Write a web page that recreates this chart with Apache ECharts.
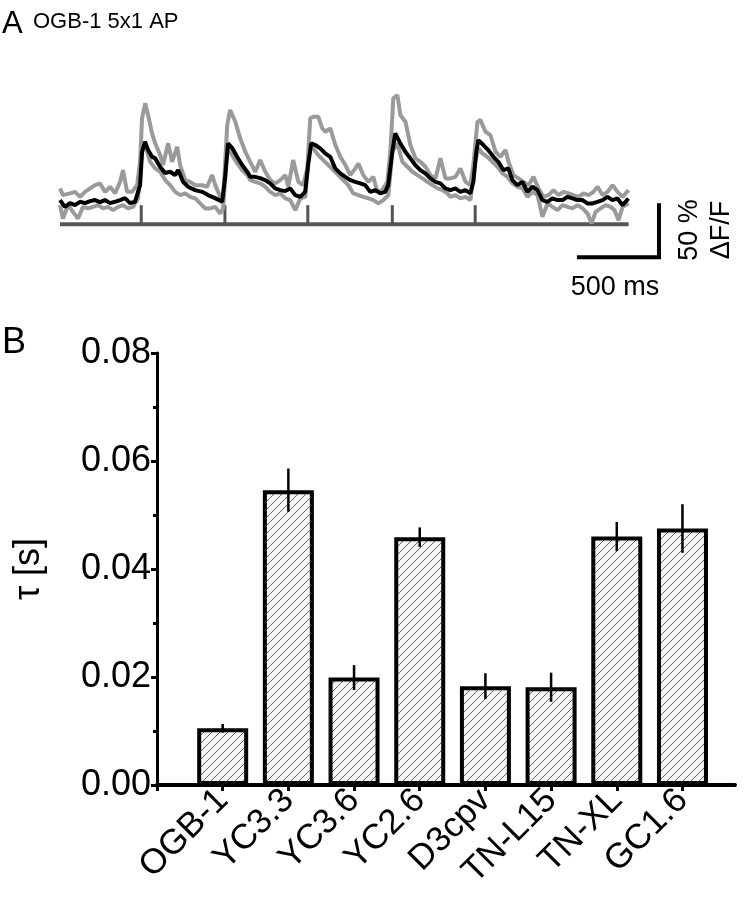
<!DOCTYPE html>
<html>
<head>
<meta charset="utf-8">
<title>OGB-1 5x1 AP / tau</title>
<script src="https://cdn.jsdelivr.net/npm/echarts/dist/echarts.min.js"></script>
<style>
  html, body { margin: 0; padding: 0; background: #fff; }
  #main { width: 749px; height: 900px; }
</style>
</head>
<body>
<div id="main"></div>
<script>
// ---- panel A: fluorescence traces (time in ms, dF/F in %) ----
var traceMean = [
  [0, 1.9], [30, -4.4], [61, -0.9], [91, -2.8], [122, 0.3], [152, -0.9], [183, 0.9], [213, 1.9],
  [244, 0], [274, 1.9], [305, -0.9], [335, 0.3], [366, 1.9], [396, 3.7], [427, -0.9], [457, 0.3],
  [488, 15.7], [500, 46.3], [518, 55.8], [537, 48.1], [561, 41.9], [579, 40.7], [610, 32.7], [640, 26.9],
  [671, 28.1], [701, 25], [720, 29.6], [750, 18.8], [781, 14.2], [823, 11.1], [866, 9.5], [902, 6.5],
  [945, 3.7], [988, 0.3], [1006, 22.2], [1024, 54.4], [1049, 50], [1079, 41.9], [1110, 34.3], [1146, 26.9],
  [1159, 23.4], [1189, 23.4], [1220, 22.2], [1250, 20.4], [1281, 17.3], [1311, 12.7], [1342, 11.1], [1372, 10.2],
  [1403, 12.7], [1433, 6.5], [1464, 4.9], [1494, 9.5], [1512, 34.3], [1531, 54.4], [1555, 52.8], [1586, 49.7],
  [1616, 45.1], [1647, 41.9], [1677, 31.2], [1708, 26.6], [1738, 23.4], [1769, 20.4], [1799, 18.8], [1830, 17.3],
  [1860, 15.7], [1891, 9.5], [1921, 11.1], [1952, 8.1], [1982, 9.5], [2000, 15.7], [2025, 46.6], [2043, 63.6],
  [2074, 54.4], [2104, 46.6], [2135, 40.5], [2165, 34.3], [2196, 29.6], [2226, 26.6], [2257, 21.9], [2287, 18.8],
  [2318, 17.3], [2348, 12.7], [2379, 11.1], [2409, 12.7], [2440, 9.5], [2470, 11.1], [2501, 8.1], [2519, 18.8],
  [2537, 46.6], [2549, 57.4], [2580, 52.8], [2610, 48.1], [2641, 41.9], [2671, 37.3], [2702, 29.6], [2732, 31.2],
  [2757, 20.4], [2787, 15.7], [2818, 18.8], [2848, 9.5], [2879, 14.2], [2909, 11.1], [2940, 1.9], [2970, 0.3],
  [3001, 3.4], [3031, 1.9], [3062, 1.9], [3092, 4.9], [3123, 3.4], [3153, 1.9], [3184, 1.9], [3214, -1.2],
  [3245, -1.2], [3275, 0.3], [3306, 1.9], [3336, 4.9], [3367, 1.9], [3397, 3.4], [3428, -2.8], [3464, 3.4]
];

var traceUpper = [
  [0, 12.7], [18, 6.5], [61, 8.1], [92, 9.5], [122, 4.9], [153, 9.5], [183, 12.7], [214, 15.7],
  [244, 17.3], [275, 9.5], [305, 14.2], [336, 8.1], [366, 18.8], [384, 29.6], [409, 9.5], [439, 9.5],
  [470, 15.7], [488, 37.3], [500, 77.5], [519, 91.4], [537, 80.6], [561, 63.6], [580, 54.4], [610, 43.5],
  [628, 34.3], [659, 54.4], [683, 37.3], [714, 51.2], [732, 34.3], [763, 20.4], [793, 18.8], [824, 15.7],
  [866, 15.7], [897, 14.2], [927, 25], [946, 15.7], [976, 4.9], [994, 3.4], [1019, 71.3], [1037, 85.2],
  [1068, 74.4], [1098, 59], [1129, 46.6], [1159, 37.3], [1190, 28.1], [1220, 38.9], [1251, 28.1], [1281, 20.4],
  [1312, 17.3], [1342, 20.4], [1373, 25], [1391, 14.2], [1421, 38.9], [1452, 18.8], [1482, 15.7], [1507, 31.2],
  [1525, 77.5], [1543, 79], [1574, 79], [1598, 68.2], [1617, 65.1], [1647, 68.2], [1678, 52.8], [1708, 41.9],
  [1739, 34.3], [1769, 25], [1800, 31.2], [1818, 35.8], [1848, 25], [1879, 18.8], [1909, 23.4], [1934, 9.5],
  [1964, 11.1], [1995, 18.8], [2013, 46.6], [2031, 96], [2056, 99.1], [2074, 80.6], [2105, 74.4], [2135, 52.8],
  [2166, 40.5], [2196, 37.3], [2227, 32.7], [2257, 25], [2288, 21.9], [2318, 40.5], [2349, 21.9], [2379, 21.9],
  [2410, 23.4], [2440, 31.2], [2471, 18.8], [2501, 15.7], [2519, 34.3], [2544, 74.4], [2562, 75.9], [2593, 65.1],
  [2623, 62], [2654, 46.6], [2684, 41.9], [2715, 48.2], [2733, 37.3], [2763, 25], [2794, 21.9], [2824, 18.8],
  [2855, 15.7], [2885, 23.4], [2916, 12.7], [2946, 4.9], [2977, 6.5], [3007, 11.1], [3038, 6.5], [3068, 9.5],
  [3099, 8.1], [3129, 6.5], [3160, 4.9], [3190, 8.1], [3221, 6.5], [3251, 9.5], [3276, 14.2], [3306, 6.5],
  [3337, 9.5], [3367, 15.7], [3398, 9.5], [3428, 4.9], [3465, 11.1]
];

var traceLower = [
  [0, -2.8], [18, -15.1], [49, -2.8], [79, -9], [110, -15.1], [140, -4.4], [171, -5.8], [201, -4.4],
  [232, -2.8], [262, -5.8], [293, -4.4], [323, -7.4], [354, -4.4], [384, -2.8], [415, -5.8], [445, -4.4],
  [476, 3.4], [500, 46.6], [519, 52.8], [549, 37.3], [580, 31.2], [610, 28.1], [641, 20.4], [671, 15.7],
  [702, 9.5], [732, 6.5], [763, 8.1], [793, 4.9], [824, 3.4], [854, -1.2], [885, -5.8], [915, -5.8],
  [946, -4.4], [976, -10.5], [994, -5.8], [1019, 49.7], [1049, 43.5], [1080, 35.8], [1110, 29.6], [1141, 25],
  [1159, 20.4], [1190, 18.8], [1220, 17.3], [1251, 14.2], [1281, 9.5], [1312, 6.5], [1342, 8.1], [1373, 3.4],
  [1403, 1.9], [1434, -7.4], [1464, 3.4], [1495, 4.9], [1519, 49.7], [1543, 49.7], [1574, 43.5], [1604, 38.9],
  [1635, 34.3], [1665, 29.6], [1696, 25], [1726, 20.4], [1757, 15.7], [1787, 8.1], [1818, 6.5], [1848, 4.9],
  [1879, 3.4], [1909, 1.9], [1940, -1.2], [1970, 1.9], [2001, 6.5], [2025, 46.6], [2056, 54.4], [2086, 37.3],
  [2117, 32.7], [2147, 28.1], [2178, 25], [2208, 21.9], [2239, 18.8], [2269, 15.7], [2300, 12.7], [2330, 11.1],
  [2361, 8.1], [2379, 4.9], [2410, 6.5], [2440, 3.4], [2471, 4.9], [2501, 1.9], [2525, 34.3], [2550, 49.7],
  [2574, 45.1], [2605, 41.9], [2635, 37.3], [2666, 32.7], [2696, 26.6], [2727, 23.4], [2757, 17.3], [2788, 14.2],
  [2818, 12.7], [2849, 4.9], [2879, 9.5], [2910, 6.5], [2940, -13.6], [2971, -1.2], [3001, -4.4], [3032, -7.4],
  [3062, -2.8], [3093, -4.4], [3123, -5.8], [3154, -2.8], [3184, -5.8], [3215, -10.5], [3239, -19.7], [3264, -9],
  [3294, -5.8], [3325, -2.8], [3355, -4.4], [3379, -7.4], [3404, -16.7], [3428, -4.4], [3465, -1.2]
];

var stimTimes = [495, 1005, 1510, 2025, 2530];
var stimLevel = -20.4;   // % position of the stimulus row
var stimHeight = 17.6;   // % height of each AP marker
var traceEnd = 3465;

// scale bar: 500 ms, 50 % dF/F
var scaleMs = 500;
var scalePct = 50;
var scaleT0 = 3150;
var scaleV0 = -51;

// ---- panel B: decay time constants ----
var barNames = ["OGB-1", "YC3.3", "YC3.6", "YC2.6", "D3cpv", "TN-L15", "TN-XL", "GC1.6"];
var tauMean = [0.0105, 0.0546, 0.0199, 0.0459, 0.0183, 0.0181, 0.0460, 0.0475];
var tauErr = [0.0008, 0.0040, 0.0023, 0.0018, 0.0024, 0.0027, 0.0027, 0.0045];
var tauTicks = [0, 0.02, 0.04, 0.06, 0.08];

var FONT = "Liberation Sans";

// schraffur fuer die balken
function makeHatch() {
  var c = document.createElement("canvas");
  c.width = 8;
  c.height = 8;
  var g = c.getContext("2d");
  g.fillStyle = "#f4f4f4";
  g.fillRect(0, 0, 8, 8);
  g.strokeStyle = "#666666";
  g.lineWidth = 1;
  g.beginPath();
  g.moveTo(0, 8); g.lineTo(8, 0);
  g.moveTo(-1, 1); g.lineTo(1, -1);
  g.moveTo(7, 9); g.lineTo(9, 7);
  g.stroke();
  return c;
}

var myChart = echarts.init(document.getElementById("main"), null, { renderer: "canvas" });

var barPos = barNames.map(function (n, i) { return i + 1; });

var option = {
  animation: false,
  backgroundColor: "#ffffff",
  textStyle: { fontFamily: FONT, color: "#000" },
  grid: [
    { left: 60, top: 94, width: 640, height: 173 },
    { left: 157, top: 353, right: 14, bottom: 115 }
  ],
  xAxis: [
    { gridIndex: 0, type: "value", min: 0, max: 3900, show: false },
    {
      gridIndex: 1,
      type: "value",
      min: 0,
      max: 8.8,
      interval: 1,
      splitLine: { show: false },
      axisLine: { show: true, onZero: false, lineStyle: { color: "#000", width: 4 } },
      axisTick: {
        show: true,
        length: 6,
        customValues: [0].concat(barPos),
        lineStyle: { color: "#000", width: 3 }
      },
      axisLabel: {
        rotate: 45,
        fontSize: 35,
        fontFamily: FONT,
        color: "#000",
        margin: 10,
        customValues: barPos,
        formatter: function (v) { return barNames[Math.round(v) - 1] || ""; }
      }
    }
  ],
  yAxis: [
    { gridIndex: 0, type: "value", min: -60, max: 100, show: false },
    {
      gridIndex: 1,
      type: "value",
      min: 0,
      max: 0.08,
      interval: 0.02,
      name: "τ [s]",
      nameLocation: "middle",
      nameRotate: 90,
      nameGap: 110,
      nameTextStyle: { fontSize: 36, fontFamily: FONT, color: "#000" },
      splitLine: { show: false },
      axisLine: { show: true, lineStyle: { color: "#000", width: 3 } },
      axisTick: { show: true, length: 6, lineStyle: { color: "#000", width: 3 } },
      minorTick: { show: true, splitNumber: 2, length: 4, lineStyle: { color: "#000", width: 3 } },
      axisLabel: {
        fontSize: 36,
        fontFamily: FONT,
        color: "#000",
        margin: 6,
        customValues: tauTicks,
        formatter: function (v) { return v.toFixed(2); }
      }
    }
  ],
  graphic: [
    { type: "text", left: 2, top: 9, style: { text: "A", fontSize: 31, fontFamily: FONT, fill: "#000" } },
    { type: "text", left: 33, top: 11, style: { text: "OGB-1 5x1 AP", fontSize: 22, fontFamily: FONT, fill: "#000" } },
    { type: "text", x: 615, y: 274, style: { text: "500 ms", fontSize: 27, fontFamily: FONT, fill: "#000", align: "center", verticalAlign: "top" } },
    { type: "text", x: 690, y: 230, rotation: Math.PI / 2, style: { text: "50 %", fontSize: 27, fontFamily: FONT, fill: "#000", align: "center", verticalAlign: "middle" } },
    { type: "text", x: 722, y: 230, rotation: Math.PI / 2, style: { text: "ΔF/F", fontSize: 27, fontFamily: FONT, fill: "#000", align: "center", verticalAlign: "middle" } },
    { type: "text", left: 2, top: 325, style: { text: "B", fontSize: 36, fontFamily: FONT, fill: "#000" } }
  ],
  series: [
    {
      // stimulus row
      type: "line",
      xAxisIndex: 0, yAxisIndex: 0,
      data: [[0, stimLevel], [traceEnd, stimLevel]],
      showSymbol: false,
      lineStyle: { color: "#555555", width: 4 },
      silent: true
    },
    {
      type: "custom",
      xAxisIndex: 0, yAxisIndex: 0,
      data: stimTimes.map(function (t) { return [t, stimLevel, stimLevel + stimHeight]; }),
      renderItem: function (params, api) {
        var a = api.coord([api.value(0), api.value(1)]);
        var b = api.coord([api.value(0), api.value(2)]);
        return { type: "line", shape: { x1: a[0], y1: a[1], x2: b[0], y2: b[1] }, style: { stroke: "#555555", lineWidth: 3 } };
      },
      silent: true
    },
    {
      type: "line",
      xAxisIndex: 0, yAxisIndex: 0,
      data: traceUpper,
      showSymbol: false,
      lineStyle: { color: "#9a9a9a", width: 4 },
      silent: true
    },
    {
      type: "line",
      xAxisIndex: 0, yAxisIndex: 0,
      data: traceLower,
      showSymbol: false,
      lineStyle: { color: "#9a9a9a", width: 4 },
      silent: true
    },
    {
      type: "line",
      xAxisIndex: 0, yAxisIndex: 0,
      data: traceMean,
      showSymbol: false,
      lineStyle: { color: "#000000", width: 4 },
      silent: true
    },
    {
      // scale bar
      type: "line",
      xAxisIndex: 0, yAxisIndex: 0,
      data: [[scaleT0, scaleV0], [scaleT0 + scaleMs, scaleV0], [scaleT0 + scaleMs, scaleV0 + scalePct]],
      showSymbol: false,
      lineStyle: { color: "#000000", width: 4, cap: "butt", join: "miter" },
      silent: true
    },
    {
      type: "bar",
      xAxisIndex: 1, yAxisIndex: 1,
      data: barNames.map(function (n, i) { return [i + 1, tauMean[i]]; }),
      barWidth: 51,
      itemStyle: {
        color: { image: makeHatch(), repeat: "repeat" },
        borderColor: "#000000",
        borderWidth: 4
      },
      silent: true
    },
    {
      // fehlerbalken
      type: "custom",
      xAxisIndex: 1, yAxisIndex: 1,
      data: barNames.map(function (n, i) { return [i + 1, tauMean[i] - tauErr[i], tauMean[i] + tauErr[i]]; }),
      renderItem: function (params, api) {
        var a = api.coord([api.value(0), api.value(1)]);
        var b = api.coord([api.value(0), api.value(2)]);
        return { type: "line", shape: { x1: a[0], y1: a[1], x2: b[0], y2: b[1] }, style: { stroke: "#000", lineWidth: 2.5 } };
      },
      z: 5,
      silent: true
    }
  ]
};

myChart.setOption(option);
</script>
</body>
</html>
